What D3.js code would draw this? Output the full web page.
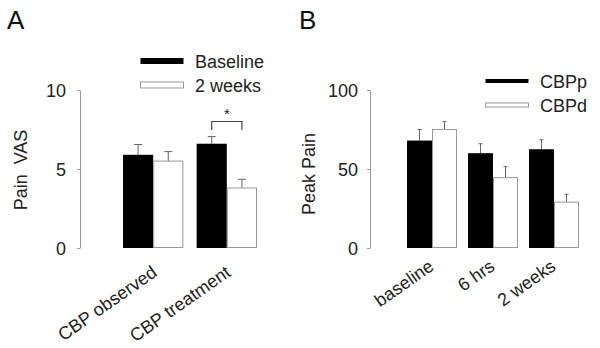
<!DOCTYPE html>
<html>
<head>
<meta charset="utf-8">
<script src="https://cdn.jsdelivr.net/npm/d3@7"></script>
<style>
  body { margin: 0; background: #fff; }
  svg { display: block; font-family: "Liberation Sans", Arial, sans-serif; }
  .axis path, .axis line { stroke: #999; }
  .axis text { font-size: 18px; fill: #222; }
</style>
</head>
<body>
<svg id="chart" width="600" height="348"></svg>
<script>
// Panel A: pain VAS
const groupsA = ["CBP observed", "CBP treatment"];
const seriesA = ["Baseline", "2 weeks"];
const baselineVAS = [5.9, 6.6];
const baselineVASErr = [0.65, 0.45];
const weeks2VAS = [5.5, 3.8];
const weeks2VASErr = [0.6, 0.55];
const ticksA = [0, 5, 10];

// Panel B: peak pain
const groupsB = ["baseline", "6 hrs", "2 weeks"];
const seriesB = ["CBPp", "CBPd"];
const cbppPain = [68, 60, 62.5];
const cbppErr = [7, 6, 6];
const cbpdPain = [75, 44.5, 29];
const cbpdErr = [5, 7, 5];
const ticksB = [0, 50, 100];

const svg = d3.select("#chart");
const plotTop = 90, plotBottom = 248;

function panel(opt) {
    const g = svg.append("g");

    const y = d3.scaleLinear().domain(opt.yDomain).range([plotBottom, plotTop]);
    const x0 = d3.scaleBand().domain(opt.groups).range(opt.xRange).paddingInner(0.18).paddingOuter(0);
    const x1 = d3.scaleBand().domain(opt.series).range([0, x0.bandwidth()]);

    const rows = [];
    opt.groups.forEach((grp, i) => {
        opt.series.forEach((s, j) => {
            rows.push({ grp, s, j, v: opt.values[j][i], e: opt.errors[j][i] });
        });
    });

    // y axis
    g.append("g")
        .attr("class", "axis")
        .attr("transform", `translate(${opt.axisX},0)`)
        .call(d3.axisLeft(y).tickValues(opt.ticks).tickSize(3).tickSizeOuter(0).tickPadding(opt.tickPad))
        .call(a => a.select(".domain").attr("stroke", "#999"))
        .call(a => a.selectAll("text").attr("dy", "0.36em"));

    // error bars (upward only)
    const eb = g.selectAll(".err").data(rows).join("g").attr("class", "err")
        .attr("stroke", "#666").attr("stroke-width", 1);
    eb.append("line")
        .attr("x1", d => x0(d.grp) + x1(d.s) + x1.bandwidth() / 2)
        .attr("x2", d => x0(d.grp) + x1(d.s) + x1.bandwidth() / 2)
        .attr("y1", d => y(d.v))
        .attr("y2", d => y(d.v + d.e));
    eb.append("line")
        .attr("x1", d => x0(d.grp) + x1(d.s) + x1.bandwidth() / 2 - opt.cap / 2)
        .attr("x2", d => x0(d.grp) + x1(d.s) + x1.bandwidth() / 2 + opt.cap / 2)
        .attr("y1", d => y(d.v + d.e))
        .attr("y2", d => y(d.v + d.e));

    // bars
    g.selectAll(".bar").data(rows).join("rect")
        .attr("class", "bar")
        .attr("x", d => x0(d.grp) + x1(d.s) + (d.j ? 0.5 : 0))
        .attr("y", d => y(d.v))
        .attr("width", d => x1.bandwidth() - (d.j ? 1 : 0))
        .attr("height", d => y(0) - y(d.v) - (d.j ? 0.5 : 0))
        .attr("fill", d => d.j ? "#fff" : "#000")
        .attr("stroke", d => d.j ? "#999" : "none")
        .attr("stroke-width", 1);

    // category labels
    g.selectAll(".xlab").data(opt.groups).join("text")
        .attr("class", "xlab")
        .attr("text-anchor", "end")
        .attr("font-size", 18)
        .attr("fill", "#222")
        .attr("transform", d => `translate(${x0(d) + x0.bandwidth() / 2 + opt.labDx},${plotBottom + opt.labDy}) rotate(-35)`)
        .text(d => d);

    // y label
    g.append("text")
        .attr("text-anchor", "middle")
        .attr("font-size", 18)
        .attr("fill", "#222")
        .style("white-space", "pre")
        .attr("transform", `translate(${opt.yLabX},${opt.yLabY}) rotate(-90)`)
        .text(opt.yLabel);

    // panel letter
    g.append("text")
        .attr("x", opt.letterX).attr("y", 29)
        .attr("font-size", 26)
        .attr("fill", "#111")
        .text(opt.letter);

    // legend
    const lg = g.append("g");
    opt.series.forEach((s, j) => {
        const ly = opt.legY[j];
        lg.append("rect")
            .attr("x", opt.legX + 0.5)
            .attr("y", ly - opt.legH / 2)
            .attr("width", 43)
            .attr("height", opt.legH)
            .attr("fill", j ? "#fff" : "#000")
            .attr("stroke", j ? "#999" : "none");
        lg.append("text")
            .attr("x", opt.legX + 55)
            .attr("y", ly + 6.5)
            .attr("font-size", 18)
            .attr("fill", "#222")
            .text(s);
    });

    return { x0, x1, y, g };
}

const A = panel({
    groups: groupsA, series: seriesA,
    values: [baselineVAS, weeks2VAS], errors: [baselineVASErr, weeks2VASErr],
    yDomain: [0, 10], ticks: ticksA, xRange: [123, 257], axisX: 80, tickPad: 11,
    cap: 8, labDx: 5, labDy: 27, yLabel: "Pain  VAS", yLabX: 27, yLabY: 170,
    letter: "A", letterX: 7, legX: 140, legY: [61, 85], legH: 6
});

const B = panel({
    groups: groupsB, series: seriesB,
    values: [cbppPain, cbpdPain], errors: [cbppErr, cbpdErr],
    yDomain: [0, 100], ticks: ticksB, xRange: [407, 579], axisX: 370, tickPad: 9,
    cap: 4, labDx: 3, labDy: 21, yLabel: "Peak Pain", yLabX: 315, yLabY: 174,
    letter: "B", letterX: 299, legX: 485, legY: [81, 105], legH: 4
});

// significance bracket over CBP treatment
const grp = groupsA[1];
const bx1 = A.x0(grp) + A.x1(seriesA[0]) + A.x1.bandwidth() / 2;
const bx2 = A.x0(grp) + A.x1(seriesA[1]) + A.x1.bandwidth() / 2;
A.g.append("path")
    .attr("d", `M${bx1},130V121.5H${bx2}V130`)
    .attr("fill", "none")
    .attr("stroke", "#444")
    .attr("stroke-width", 1.2);
A.g.append("text")
    .attr("x", (bx1 + bx2) / 2)
    .attr("y", 119)
    .attr("text-anchor", "middle")
    .attr("font-size", 15)
    .attr("fill", "#222")
    .text("*");
</script>
</body>
</html>
